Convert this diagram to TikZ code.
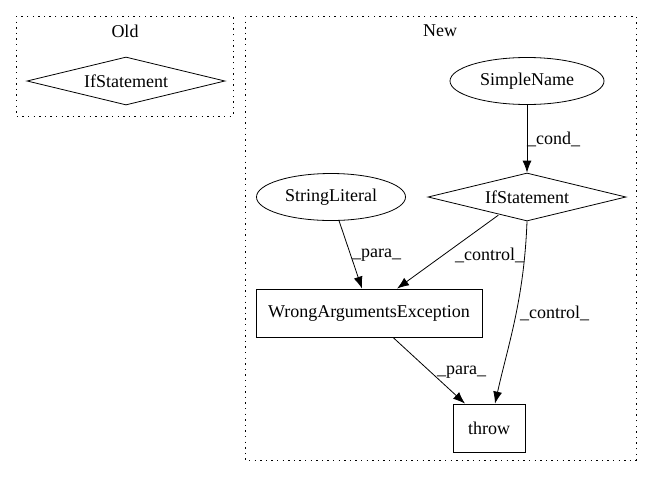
\documentclass[tikz,border=0pt]{standalone}
\usepackage{fontspec}
\setmainfont{Liberation Serif}
\usepackage{tikz}
\usetikzlibrary{positioning}
\usetikzlibrary{arrows.meta}
\usetikzlibrary{shapes.geometric}

\begin{document}
\begin{tikzpicture}[x=1pt, y=-1pt, >={Latex[length=12pt,width=9pt]}, font=\fontsize{18}{21}\selectfont,
cluster/.style={draw, line width=0.8pt, dash pattern=on 1.4pt off 4.2pt},
ifnode/.style={diamond, draw, thick, inner sep=0pt, aspect=4.1, minimum width=198pt, minimum height=48pt},
oval/.style={ellipse, draw, thick, inner sep=0pt, minimum width=#1, minimum height=47pt},
block/.style={rectangle, draw, thick, inner sep=0pt, minimum height=48pt, minimum width=#1},
elabel/.style={inner sep=1pt, anchor=west}]

\useasboundingbox (0,0) rectangle (652,480);

% Old
\draw [cluster] (16,16) rectangle (233,116);
\node (oldtitle) at (125,31) {Old};
\node [ifnode] (oldif) at (126,81) {IfStatement};

% New
\draw [cluster] (245,16) rectangle (636,460);
\node (newtitle) at (440,31) {New};

\node [oval=154pt] (simplename) at (527,81) {SimpleName};
\node [ifnode] (newif) at (527,197) {IfStatement};
\node [oval=149pt] (strlit) at (331,197) {StringLiteral};
\node [block=226pt] (wae) at (369,313) {WrongArgumentsException};
\node [block=72pt] (throw) at (489,428) {throw};

\draw [->, thick] (simplename) -- (newif);
\node [elabel] (condlbl) at (526,139) {\_cond\_};

\draw [->, thick] (strlit) -- ([xshift=-7pt]wae.north);
\node [elabel] (para1) at (351,255) {\_para\_};

\draw [->, thick] ([xshift=21pt,yshift=-6pt]newif.south west) -- ([xshift=28pt]wae.north);
\node [elabel] (ctrl1) at (454,255) {\_control\_};

\draw [->, thick] (newif.south) .. controls (524,300) and (508,345) .. ([xshift=6pt]throw.north);
\node [elabel] (ctrl2) at (519,313) {\_control\_};

\draw [->, thick] ([xshift=24pt]wae.south) -- ([xshift=-24pt]throw.north);
\node [elabel] (para2) at (436,372) {\_para\_};

\end{tikzpicture}
\end{document}
